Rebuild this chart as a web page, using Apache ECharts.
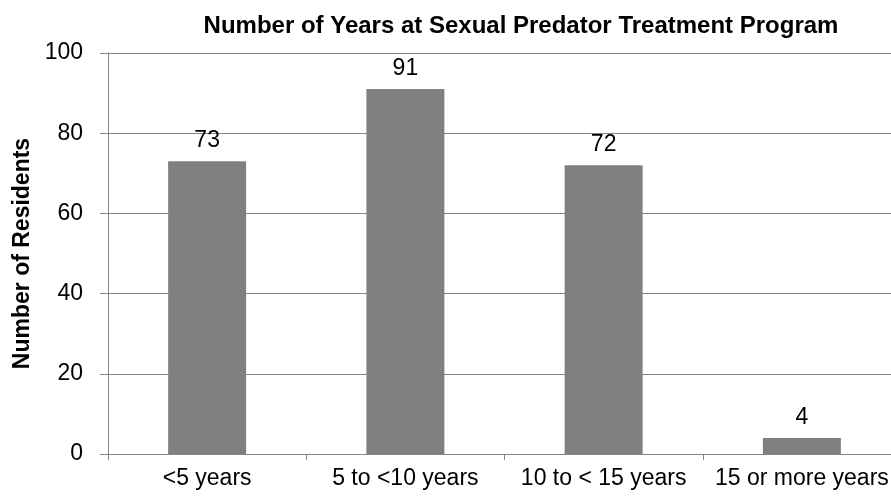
<!DOCTYPE html>
<html>
<head>
<meta charset="utf-8">
<script src="https://cdn.jsdelivr.net/npm/echarts@6/dist/echarts.min.js"></script>
<style>
  html, body { margin: 0; padding: 0; background: #fff; }
  #chart { width: 891px; height: 497px; }
</style>
</head>
<body>
<div id="chart"></div>
<script>
// data
var categories = ['<5 years', '5 to <10 years', '10 to < 15 years', '15 or more years'];
var residents = [73, 91, 72, 4];
var yTicks = [0, 20, 40, 60, 80, 100];

var chart = echarts.init(document.getElementById('chart'));
chart.setOption({
  animation: false,
  title: {
    text: 'Number of Years at Sexual Predator Treatment Program',
    left: 516,
    textAlign: 'center',
    top: 9,
    textStyle: { fontFamily: 'Liberation Sans', fontSize: 24, fontWeight: 'bold', color: '#000' }
  },
  // plot runs a little past the right edge of the picture
  grid: { left: 108, top: 53, width: 793, height: 401, outerBoundsMode: 'none', containLabel: false },
  xAxis: {
    type: 'category',
    data: categories,
    axisLine: { lineStyle: { color: '#868686', width: 1 } },
    axisTick: { show: true, length: 6, lineStyle: { color: '#868686' } },
    axisLabel: { margin: 13, fontFamily: 'Liberation Sans', fontSize: 23, color: '#000', interval: 0 }
  },
  yAxis: {
    type: 'value',
    min: yTicks[0],
    max: yTicks[yTicks.length - 1],
    interval: 20,
    name: 'Number of Residents',
    nameLocation: 'middle',
    nameGap: 72,
    nameTextStyle: { fontFamily: 'Liberation Sans', fontSize: 23, fontWeight: 'bold', color: '#000' },
    axisLine: { show: true, lineStyle: { color: '#868686', width: 1 } },
    axisTick: { show: true, length: 8, lineStyle: { color: '#868686' } },
    axisLabel: { margin: 25, fontFamily: 'Liberation Sans', fontSize: 23, color: '#000' },
    splitLine: { lineStyle: { color: '#868686', width: 1 } }
  },
  series: [{
    type: 'bar',
    data: residents,
    barWidth: 78,
    itemStyle: { color: '#808080' },
    label: {
      show: true,
      position: 'top',
      distance: 9,
      fontFamily: 'Liberation Sans',
      fontSize: 23,
      color: '#000'
    }
  }]
});
</script>
</body>
</html>
